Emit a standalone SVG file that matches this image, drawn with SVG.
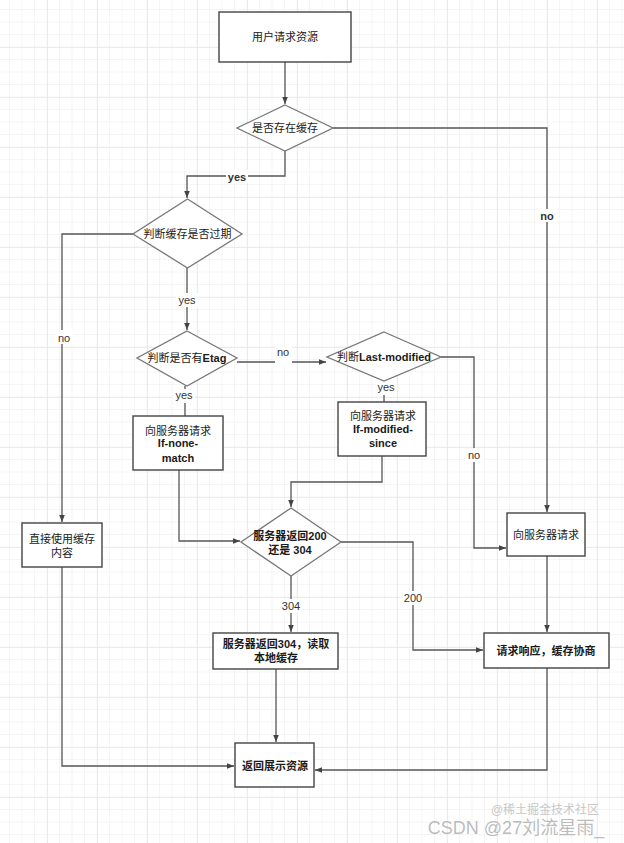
<svg xmlns="http://www.w3.org/2000/svg" width="624" height="843" viewBox="0 0 624 843">
<defs>
<pattern id="minor" x="-2.5" y="-2.5" width="12.5" height="12.5" patternUnits="userSpaceOnUse"><path d="M12.5 0V12.5M0 12.5H12.5" fill="none" stroke="#ebebeb" stroke-width="1"/></pattern>
<pattern id="major" x="-2" y="-2" width="50" height="50" patternUnits="userSpaceOnUse"><path d="M50 0V50M0 50H50" fill="none" stroke="#dedede" stroke-width="1"/></pattern>
<marker id="arr" viewBox="0 0 10 10" refX="10" refY="5" markerWidth="7" markerHeight="7" orient="auto" markerUnits="userSpaceOnUse"><path d="M0 1L10 5L0 9Z" fill="#444"/></marker>
<style>
.bx{fill:#fff;stroke:#444;stroke-width:1.4}
.dm{fill:#fff;stroke:#777;stroke-width:1.3}
.ln{fill:none;stroke:#555;stroke-width:1.3}
.t{font-family:"Liberation Sans","Noto Sans CJK SC",sans-serif;font-size:11px;fill:#1a1a1a;text-anchor:middle}
.b{font-weight:bold}
.lb{font-family:"Liberation Sans","Noto Sans CJK SC",sans-serif;font-size:11px;fill:#333;text-anchor:middle}
.bg{fill:#fff}
</style>
</defs>
<rect width="624" height="843" fill="#fff"/>
<rect width="624" height="843" fill="url(#minor)"/>
<rect width="624" height="843" fill="url(#major)"/>

<g id="connectors">
<path class="ln" d="M285 62V104" marker-end="url(#arr)"/>
<path class="ln" d="M285 151V176H187V198" marker-end="url(#arr)"/>
<path class="ln" d="M333 128H547V512" marker-end="url(#arr)"/>
<path class="ln" d="M133 234H62V522" marker-end="url(#arr)"/>
<path class="ln" d="M187 268V330" marker-end="url(#arr)"/>
<path class="ln" d="M237 362H326" marker-end="url(#arr)"/>
<path class="ln" d="M185 386V416"/>
<path class="ln" d="M384 381V402"/>
<path class="ln" d="M441 357H474V548H506" marker-end="url(#arr)"/>
<path class="ln" d="M179 470V541H240" marker-end="url(#arr)"/>
<path class="ln" d="M382 456V482H291V507" marker-end="url(#arr)"/>
<path class="ln" d="M341 542H413V650H483" marker-end="url(#arr)"/>
<path class="ln" d="M291 576V632" marker-end="url(#arr)"/>
<path class="ln" d="M547 556V632" marker-end="url(#arr)"/>
<path class="ln" d="M276 669V742" marker-end="url(#arr)"/>
<path class="ln" d="M62 567V766H234" marker-end="url(#arr)"/>
<path class="ln" d="M547 668V770H315" marker-end="url(#arr)"/>
</g>

<g id="labels">
<rect class="bg" x="226" y="170" width="22" height="13"/><text class="lb b" x="237" y="181">yes</text>
<rect class="bg" x="538" y="209" width="18" height="13"/><text class="lb b" x="547" y="220">no</text>
<rect class="bg" x="54" y="330" width="20" height="14"/><text class="lb" x="64" y="342">no</text>
<rect class="bg" x="176" y="293" width="22" height="14"/><text class="lb" x="187" y="304">yes</text>
<rect class="bg" x="173" y="389" width="22" height="14"/><text class="lb" x="184" y="399">yes</text>
<rect class="bg" x="275" y="346" width="17" height="20"/><text class="lb" x="283" y="356">no</text>
<rect class="bg" x="375" y="381" width="22" height="14"/><text class="lb" x="386" y="391">yes</text>
<rect class="bg" x="465" y="448" width="18" height="14"/><text class="lb" x="474" y="459">no</text>
<rect class="bg" x="280" y="599" width="22" height="14"/><text class="lb" x="291" y="610">304</text>
<rect class="bg" x="402" y="591" width="22" height="14"/><text class="lb" x="413" y="602">200</text>
</g>

<g id="n1"><rect class="bx" x="219" y="12" width="132" height="50"/><text class="t" x="285" y="41">用户请求资源</text></g>
<g id="d1"><polygon class="dm" points="285,105 333,128 285,151 237,128"/><text class="t" x="285" y="132">是否存在缓存</text></g>
<g id="d2"><polygon class="dm" points="187.5,199 242,234 187.5,268 133,234"/><text class="t" x="187.5" y="238">判断缓存是否过期</text></g>
<g id="n2"><rect class="bx" x="22" y="523" width="80" height="44"/><text class="t" x="62" y="543">直接使用缓存</text><text class="t" x="62" y="557">内容</text></g>
<g id="d3"><polygon class="dm" points="187,331 237,358 187,386 137,358"/><text class="t" x="187" y="362">判断是否有<tspan class="b">Etag</tspan></text></g>
<g id="d4"><polygon class="dm" points="384,332 441,357 384,381 327,357"/><text class="t" x="384" y="361">判断<tspan class="b">Last-modified</tspan></text></g>
<g id="n3"><rect class="bx" x="133" y="416" width="90" height="54"/><text class="t" x="178" y="435">向服务器请求</text><text class="t b" x="178" y="447">If-none-</text><text class="t b" x="178" y="462">match</text></g>
<g id="n4"><rect class="bx" x="338" y="402" width="88" height="54"/><text class="t" x="383" y="420">向服务器请求</text><text class="t b" x="383" y="433">If-modified-</text><text class="t b" x="383" y="447">since</text></g>
<g id="n5"><rect class="bx" x="507" y="513" width="78" height="43"/><text class="t" x="546" y="539">向服务器请求</text></g>
<g id="d5"><polygon class="dm" points="291,508 341,542 291,576 241,542"/><text class="t b" x="290" y="540">服务器返回200</text><text class="t b" x="290" y="554">还是 304</text></g>
<g id="n6"><rect class="bx" x="213" y="633" width="125" height="36"/><text class="t b" x="276" y="648">服务器返回304，读取</text><text class="t b" x="276" y="662">本地缓存</text></g>
<g id="n7"><rect class="bx" x="484" y="633" width="125" height="35"/><text class="t b" x="546" y="655">请求响应，缓存协商</text></g>
<g id="n8"><rect class="bx" x="235" y="743" width="79" height="44"/><text class="t b" x="275" y="770">返回展示资源</text></g>

<g id="watermark">
<text x="545" y="814" font-family="Liberation Sans,'Noto Sans CJK SC',sans-serif" font-size="12" fill="#c8c8c8" text-anchor="middle">@稀土掘金技术社区</text>
<text x="516" y="834" font-family="Liberation Sans,'Noto Sans CJK SC',sans-serif" font-size="18" fill="#b0b0b0" fill-opacity="0.85" text-anchor="middle">CSDN @27刘流星雨_</text>
</g>
</svg>
